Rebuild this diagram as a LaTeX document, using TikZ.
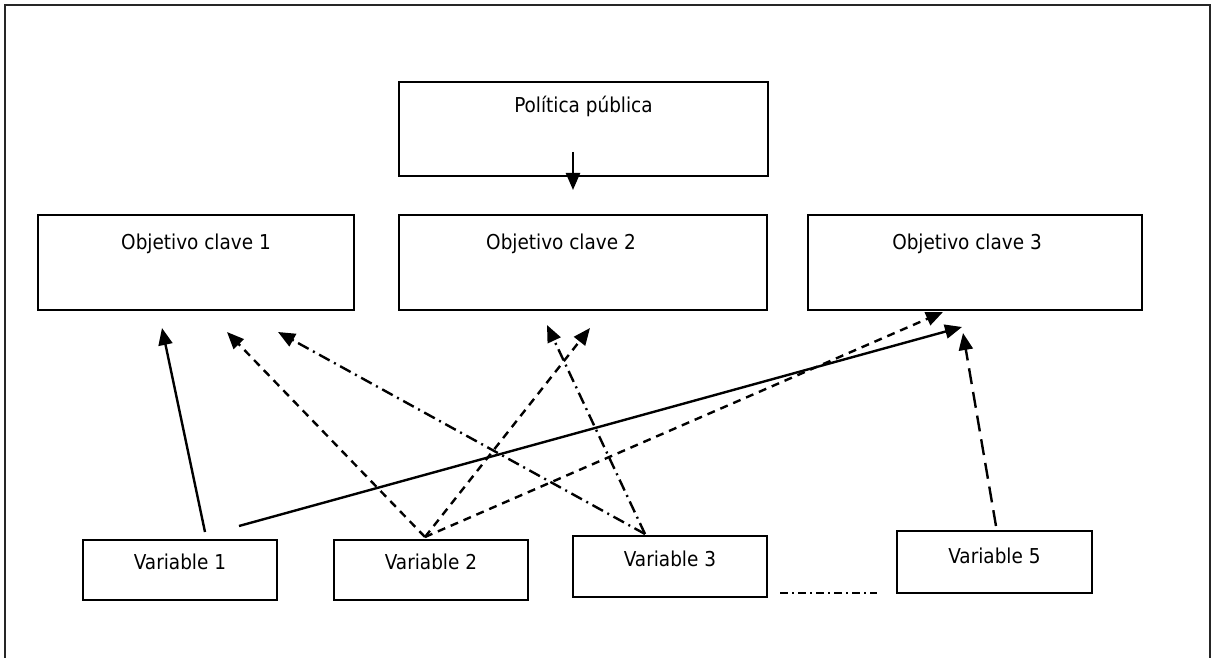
\documentclass[tikz,border=0pt]{standalone}
\usepackage{fontspec}
\setmainfont{DejaVu Sans Condensed}
\usetikzlibrary{arrows.meta}

\begin{document}
\begin{tikzpicture}[>={Triangle[length=17pt,width=14pt]}, x=1pt, y=-1pt]
    \tikzstyle{caja} = [draw, line width=2pt, rectangle, inner sep=0pt]
    \tikzstyle{texto} = [font=\fontsize{20.5}{24}\selectfont, anchor=center]
    \tikzstyle{flecha} = [->, line width=2.4pt]
    \useasboundingbox (0,0) rectangle (1211,658);
    % marco
    \draw[line width=2pt, black!85] (5,658) -- (5,5) -- (1210,5) -- (1210,658);

    % cajas
    \node[caja, minimum width=369pt, minimum height=94pt,
        label={[texto, yshift=-25pt]north:Política pública}] (pol) at (583.5,129) {};
    \node[caja, minimum width=316pt, minimum height=95pt,
        label={[texto, yshift=-30pt]north:Objetivo clave 1}] (obj1) at (196,262.5) {};
    \node[caja, minimum width=368pt, minimum height=95pt,
        label={[texto, yshift=-30pt, xshift=-22pt]north:Objetivo clave 2}] (obj2) at (583,262.5) {};
    \node[caja, minimum width=334pt, minimum height=95pt,
        label={[texto, yshift=-30pt, xshift=-8pt]north:Objetivo clave 3}] (obj3) at (975,262.5) {};
    \node[caja, minimum width=194pt, minimum height=60pt,
        label={[texto, yshift=-23pt]north:Variable 1}] (v1) at (180,570) {};
    \node[caja, minimum width=194pt, minimum height=60pt,
        label={[texto, yshift=-23pt]north:Variable 2}] (v2) at (431,570) {};
    \node[caja, minimum width=194pt, minimum height=61pt,
        label={[texto, yshift=-24pt]north:Variable 3}] (v3) at (670,566.5) {};
    \node[caja, minimum width=195pt, minimum height=62pt,
        label={[texto, yshift=-26pt]north:Variable 5}] (v5) at (994.5,562) {};

    % puntos de las flechas
    \coordinate (p0) at (573,152);
    \coordinate (p1) at (573,190);
    \coordinate (a1) at (205,532);
    \coordinate (a2) at (239,526);
    \coordinate (b) at (425,537);
    \coordinate (c) at (645,534);
    \coordinate (e) at (996,526);
    \coordinate (t1) at (162,328);
    \coordinate (t2) at (227,332);
    \coordinate (t3) at (278,332);
    \coordinate (t4) at (547,325);
    \coordinate (t5) at (590,328);
    \coordinate (t6) at (943,312);
    \coordinate (t7) at (962,327);
    \coordinate (t8) at (963,333);
    \coordinate (d1) at (780,593);
    \coordinate (d2) at (877,593);

    \draw[flecha] (p0) -- (p1);
    % variable 1
    \draw[flecha] (a1) -- (t1);
    \draw[flecha] (a2) -- (t7);
    % variable 2
    \draw[flecha, dash pattern=on 8pt off 6pt] (b) -- (t2);
    \draw[flecha, dash pattern=on 8pt off 6pt] (b) -- (t5);
    \draw[flecha, dash pattern=on 8pt off 6pt] (b) -- (t6);
    % variable 3
    \draw[flecha, dash pattern=on 12pt off 5pt on 2pt off 5pt] (c) -- (t3);
    \draw[flecha, dash pattern=on 12pt off 5pt on 2pt off 5pt] (c) -- (t4);
    % variable 5
    \draw[flecha, dash pattern=on 16pt off 8pt] (e) -- (t8);

    \draw[line width=1.5pt, dash pattern=on 8pt off 4pt on 2pt off 4pt] (d1) -- (d2);
\end{tikzpicture}
\end{document}
